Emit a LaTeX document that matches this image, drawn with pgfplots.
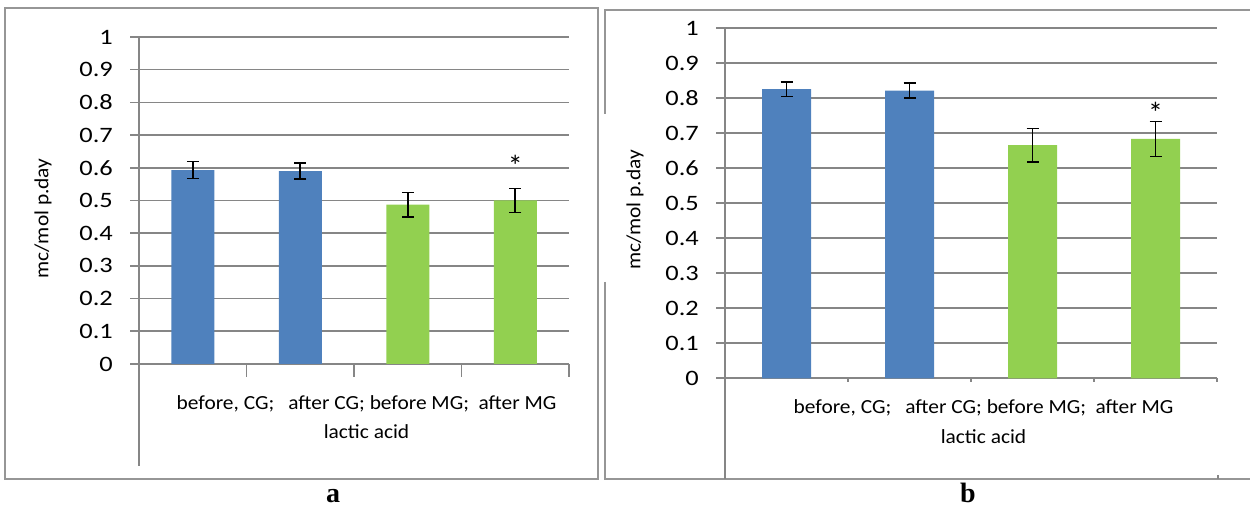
\documentclass[border=0pt]{standalone}
\usepackage{fontspec}
\setmainfont{Carlito}
\newfontfamily\tickfont[FakeStretch=1.2]{Carlito}
\newfontfamily\catfont[FakeStretch=1.07]{Carlito}
\newfontfamily\letterfont{Liberation Serif}
\usepackage{pgfplots}
\pgfplotsset{compat=1.18}
\definecolor{barblue}{RGB}{79,129,189}
\definecolor{bargreen}{RGB}{146,208,80}
\definecolor{gridgray}{RGB}{134,134,134}
\definecolor{framegray}{RGB}{150,150,150}
\newcommand\catlab{before, CG;\hspace{14bp}after CG;\hspace{5bp}before MG;\hspace{9.5bp}after MG}
\pgfplotsset{
  panel/.style={
    scale only axis, clip=false,
    xmin=0, xmax=4, ymin=0, ymax=1,
    axis x line*=bottom, axis y line*=left,
    axis line style={draw=gridgray, line width=1.6bp},
    ymajorgrids, grid style={draw=gridgray, line width=1.6bp},
    ytick={0,0.1,0.2,0.3,0.4,0.5,0.6,0.7,0.8,0.9,1},
    yticklabels={0,0.1,0.2,0.3,0.4,0.5,0.6,0.7,0.8,0.9,1},
    yticklabel style={font=\tickfont\fontsize{22bp}{22bp}\selectfont, anchor=east, inner sep=0pt, xshift=-17bp},
    tick align=outside, major tick length=9bp,
    tick style={draw=gridgray, line width=1.6bp},
    xtick={2},
    xticklabel={\catlab},
    xtick style={draw=none},
    xlabel={lactic acid},
    ylabel={mc/mol p.day},
    xlabel style={font=\catfont\fontsize{20bp}{20bp}\selectfont, anchor=center, inner sep=0pt},
    ylabel style={font=\catfont\fontsize{20bp}{20bp}\selectfont, anchor=center, inner sep=0pt},
    ybar, bar shift=0pt,
  },
  errs/.style={error bars/.cd, y dir=both, y explicit,
    error bar style={black, line width=1.6bp},
    error mark options={rotate=90, black, line width=1.6bp, mark size=6bp}},
}
\begin{document}
\begin{tikzpicture}[x=1bp,y=1bp]
\useasboundingbox (0,0) rectangle (1250,508);
% frames
\draw[framegray, line width=1.6bp] (5,500) rectangle (598,29);
\draw[framegray, line width=1.6bp] (1250,498) -- (605,498) -- (605,394);
\draw[framegray, line width=1.6bp] (605,226) -- (605,29) -- (1250,29);
\draw[gridgray, line width=1.6bp] (1218,29) -- (1218,33);
% panel a
\begin{axis}[panel, at={(139bp,144bp)}, anchor=south west, width=430bp, height=327bp, bar width=43bp,
  xticklabel style={font=\catfont\fontsize{20bp}{20bp}\selectfont, anchor=center, inner sep=0pt, xshift=12.5bp, yshift=-30.4bp},
  xlabel style={at={(axis description cs:0.5,0)}, xshift=12.5bp, yshift=-67.5bp},
  ylabel style={at={(axis description cs:-0.2233,0.445)}}]
\addplot[fill=barblue, draw=none, errs] coordinates {(0.5,0.593) +- (0,0.026) (1.5,0.590) +- (0,0.025)};
\addplot[fill=bargreen, draw=none, errs] coordinates {(2.5,0.487) +- (0,0.037) (3.5,0.500) +- (0,0.037)};
\draw[gridgray, line width=1.6bp] (axis cs:0,0) -- ++(0,-102bp);
\draw[gridgray, line width=1.6bp] (axis cs:1,0) -- ++(0,-13bp);
\draw[gridgray, line width=1.6bp] (axis cs:2,0) -- ++(0,-13bp);
\draw[gridgray, line width=1.6bp] (axis cs:3,0) -- ++(0,-13bp);
\draw[gridgray, line width=1.6bp] (axis cs:4,0) -- ++(0,-13bp);
\node[anchor=base, inner sep=0pt, font=\fontsize{30bp}{30bp}\selectfont] at (axis cs:3.5,0.574) {*};
\end{axis}
% panel b
\begin{axis}[panel, at={(725bp,129.7bp)}, anchor=south west, width=492bp, height=350bp, bar width=49bp,
  xticklabel style={font=\catfont\fontsize{20bp}{20bp}\selectfont, anchor=center, inner sep=0pt, xshift=12.5bp, yshift=-20.4bp},
  xlabel style={at={(axis description cs:0.5,0)}, xshift=12.5bp, yshift=-58bp},
  ylabel style={at={(axis description cs:-0.1829,0.481)}}]
\addplot[fill=barblue, draw=none, errs] coordinates {(0.5,0.826) +- (0,0.021) (1.5,0.822) +- (0,0.022)};
\addplot[fill=bargreen, draw=none, errs] coordinates {(2.5,0.666) +- (0,0.048) (3.5,0.684) +- (0,0.050)};
\draw[gridgray, line width=1.6bp] (axis cs:0,0) -- ++(0,-100.7bp);
\draw[gridgray, line width=1.6bp] (axis cs:1,0) -- ++(0,-4bp);
\draw[gridgray, line width=1.6bp] (axis cs:2,0) -- ++(0,-4bp);
\draw[gridgray, line width=1.6bp] (axis cs:3,0) -- ++(0,-4bp);
\draw[gridgray, line width=1.6bp] (axis cs:4,0) -- ++(0,-4bp);
\node[anchor=base, inner sep=0pt, font=\fontsize{30bp}{30bp}\selectfont] at (axis cs:3.5,0.729) {*};
\end{axis}
\node[anchor=base, inner sep=0pt, font=\letterfont\bfseries\fontsize{28bp}{28bp}\selectfont] at (333,5) {a};
\node[anchor=base, inner sep=0pt, font=\letterfont\bfseries\fontsize{28bp}{28bp}\selectfont] at (968,5) {b};
\end{tikzpicture}
\end{document}
